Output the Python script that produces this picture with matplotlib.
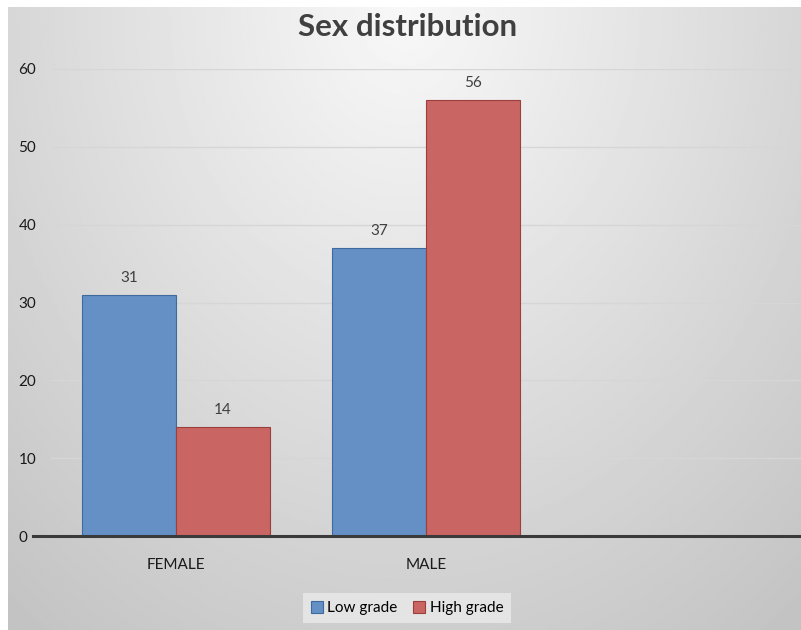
import numpy as np
import matplotlib
matplotlib.use("Agg")
import matplotlib.pyplot as plt
from matplotlib.lines import Line2D

categories = ["FEMALE", "MALE", ""]
low_grade = [31, 37, np.nan]
high_grade = [14, 56, np.nan]
series_names = ["Low grade", "High grade"]
y_ticks = [0, 10, 20, 30, 40, 50, 60]

plt.rcParams["font.family"] = ["Lato", "DejaVu Sans"]

W, H = 801, 630
fig = plt.figure(figsize=(W / 100, H / 100), dpi=100)
fig.patch.set_facecolor("white")

# radial grey background like the Excel chart area
bg = fig.add_axes([8 / W, 0, (W - 8) / W, (H - 7) / H], zorder=0)
gx, gy = np.meshgrid(np.linspace(-1, 1, 400), np.linspace(0, 1, 320))
d = np.sqrt((gx * 0.62) ** 2 + (gy * 0.78) ** 2)
shade = np.clip(248 - 54 * d, 185, 255) / 255
bg.imshow(shade, cmap="gray", vmin=0, vmax=1, aspect="auto",
          extent=[0, 1, 0, 1], origin="upper")
bg.axis("off")

ax = fig.add_axes([51 / W, 94 / H, 750 / W, 467 / H], zorder=1)
ax.patch.set_alpha(0)

x = np.arange(len(categories))
w = 0.376
blue = "#6490c6"
red = "#c96563"
b1 = ax.bar(x - w / 2, low_grade, w, color=blue, edgecolor="#3f6a9e", linewidth=0.8,
            label=series_names[0], zorder=3)
b2 = ax.bar(x + w / 2, high_grade, w, color=red, edgecolor="#9c3f3c", linewidth=0.8,
            label=series_names[1], zorder=3)

for bars in (b1, b2):
    for rect in bars:
        h = rect.get_height()
        if np.isnan(h):
            continue
        ax.annotate(f"{h:.0f}", (rect.get_x() + rect.get_width() / 2, h),
                    xytext=(0, 7), textcoords="offset points",
                    ha="center", va="bottom", fontsize=11, color="#404040")

ax.set_xlim(-0.5, 2.5)
ax.set_ylim(0, 60)
ax.set_yticks(y_ticks)
ax.set_xticks(x)
ax.set_xticklabels(categories)
ax.tick_params(axis="both", length=0, labelsize=11, labelcolor="#1a1a1a")
ax.tick_params(axis="y", pad=23.5)
for lab in ax.get_yticklabels():
    lab.set_horizontalalignment("left")
ax.tick_params(axis="x", pad=16)
ax.yaxis.grid(True, color="#d6d6d6", linewidth=1, zorder=0)
ax.set_axisbelow(True)
for s in ax.spines.values():
    s.set_visible(False)

# dark zero line, starting a little left of the plot area
ax.add_line(Line2D([-0.024, 1], [0, 0], transform=ax.get_yaxis_transform(),
                   color="#3a3a3a", linewidth=2.2, clip_on=False, zorder=4))

fig.text(408 / W, 1 - 27 / H, "Sex distribution", ha="center", va="center",
         fontsize=22.5, fontweight="bold", color="#404040")

leg = fig.legend(handles=[b1, b2], loc="center", bbox_to_anchor=(407 / W, 1 - 608 / H),
                 ncol=2, frameon=True, fontsize=11, handlelength=0.8, handleheight=0.8,
                 handletextpad=0.3, columnspacing=1.0, borderpad=0.5)
leg.get_frame().set_facecolor("#e4e4e4")
leg.get_frame().set_edgecolor("none")
leg.get_frame().set_alpha(1)
leg.get_frame().set_boxstyle("square", pad=0)

fig.savefig("out.png", dpi=100)
